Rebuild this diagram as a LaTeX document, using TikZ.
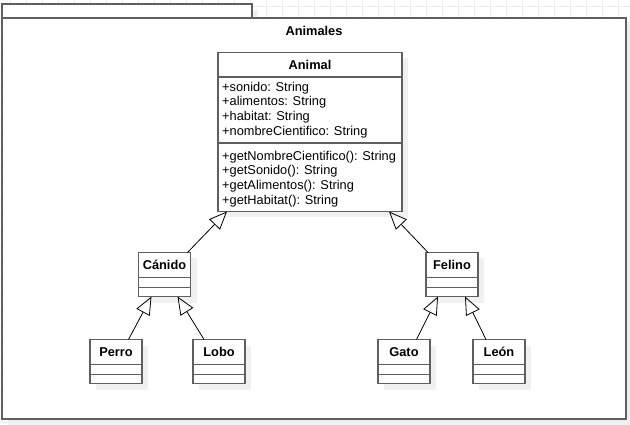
\documentclass[tikz,border=0pt]{standalone}
\usepackage{fontspec}
\setmainfont{Liberation Sans}
\usetikzlibrary{arrows.meta,shadows}
\definecolor{borde}{RGB}{95,95,95}
\definecolor{rejilla}{RGB}{236,236,236}
\definecolor{sombra}{RGB}{240,240,240}

\begin{document}
\begin{tikzpicture}[x=1pt,y=-1pt,
    clase/.style={draw=borde,line width=1.3pt,fill=white,inner sep=0pt,outer sep=0pt,anchor=north west,
        drop shadow={shadow xshift=6pt,shadow yshift=-6pt,fill=sombra,opacity=1}},
    titulo/.style={font=\fontsize{12.8}{14.7}\selectfont\bfseries,inner sep=0pt},
    miembros/.style={font=\fontsize{12.8}{14.7}\selectfont,align=left,anchor=west,inner sep=0pt},
    sep/.style={draw=borde,line width=1.3pt},
    hereda/.style={-{Triangle[open,length=18pt,width=15pt]},black,line width=0.8pt}]
    \useasboundingbox(0,0)rectangle(630,425);
    \fill[white](0,0)rectangle(630,425);
    \foreach \gx in {10,26,...,626}\draw[rejilla](\gx,0)--(\gx,425);
    \foreach \gy in {6,22,...,422}\draw[rejilla](0,\gy)--(630,\gy);

    \node[clase,minimum width=250pt,minimum height=14pt](pestana)at(2,4){};
    \node[clase,minimum width=624pt,minimum height=401pt](paquete)at(2,18){};
    \node[titulo](nombrePaquete)at(314,31){Animales};

    \node[clase,minimum width=184pt,minimum height=159pt](animal)at(218,52.5){};
    \node[titulo](animalT)at([yshift=-12pt]animal.north){Animal};
    \draw[sep]([yshift=-24.5pt]animal.north west)--([yshift=-24.5pt]animal.north east);
    \draw[sep]([yshift=-90.5pt]animal.north west)--([yshift=-90.5pt]animal.north east);
    \node[miembros](animalAtr)at(222,110){+sonido: String\\+alimentos: String\\+habitat: String\\+nombreCientifico: String};
    \node[miembros](animalMet)at(222,179){+getNombreCientifico(): String\\+getSonido(): String\\+getAlimentos(): String\\+getHabitat(): String};

    \foreach \n/\px/\py/\t in {canido/138.5/252.5/Cánido,felino/426/252.5/Felino,perro/90/339.5/Perro,
        lobo/193/339.5/Lobo,gato/378/339.5/Gato,leon/473/339.5/León}{
        \node[clase,minimum width=52pt,minimum height=44pt](\n)at(\px,\py){};
        \node[titulo](\n T)at([yshift=-12.5pt]\n.north){\t};
        \draw[sep]([yshift=-25pt]\n.north west)--([yshift=-25pt]\n.north east);
        \draw[sep]([yshift=-35pt]\n.north west)--([yshift=-35pt]\n.north east);
    }

    \draw[hereda]([xshift=-3pt]canido.north east)--([xshift=9pt]animal.south west);
    \draw[hereda]([xshift=2pt]felino.north west)--([xshift=-13pt]animal.south east);
    \draw[hereda]([xshift=12.5pt]perro.north)--([xshift=13pt]canido.south west);
    \draw[hereda]([xshift=-15pt]lobo.north)--([xshift=-13pt]canido.south east);
    \draw[hereda]([xshift=12.5pt]gato.north)--([xshift=12pt]felino.south west);
    \draw[hereda]([xshift=-13pt]leon.north)--([xshift=-13pt]felino.south east);
\end{tikzpicture}
\end{document}
